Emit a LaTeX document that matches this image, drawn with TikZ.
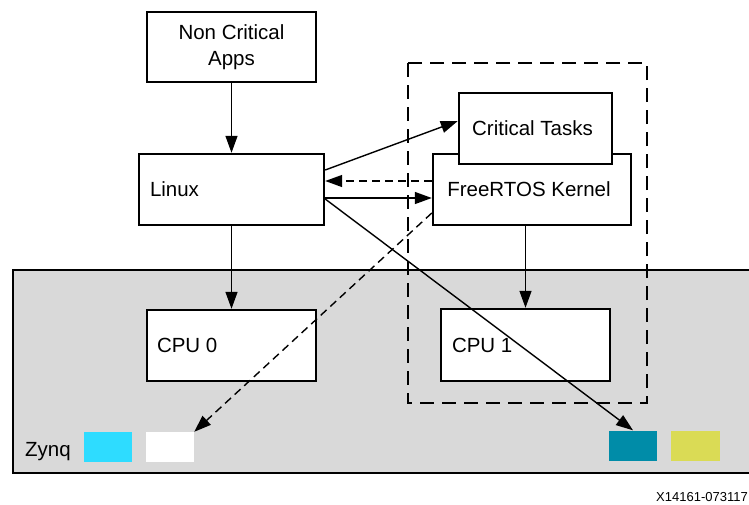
\documentclass[tikz,border=0pt]{standalone}
\usepackage{fontspec}
\setmainfont{Liberation Sans}
\usetikzlibrary{arrows.meta,calc}
\definecolor{zgray}{HTML}{D9D9D9}
\definecolor{zcyan}{HTML}{2EDCFF}
\definecolor{zteal}{HTML}{008CA8}
\definecolor{zyellow}{HTML}{DADB55}
\begin{document}
\begin{tikzpicture}[x=1pt,y=-1pt,
  txt/.style={font=\fontsize{20.5}{25.5}\selectfont},
  box/.style={draw, line width=2.4pt, fill=white, inner sep=0pt, txt, align=center},
  lbl/.style={anchor=west, inner sep=0pt, txt},
  conn/.style={line width=1.4pt, -{Triangle[length=17pt,width=12pt]}},
  dconn/.style={conn, dash pattern=on 8pt off 5pt},
  sq/.style={minimum width=48pt, minimum height=30pt, inner sep=0pt, draw=none}]
\useasboundingbox (0,0) rectangle (749,504);
% Zynq region
\fill[zgray] (13,270) rectangle (770,473);
\draw[line width=2.4pt] (770,270) -- (13,270) -- (13,473) -- (770,473);
% dashed group
\draw[line width=2.8pt, dash pattern=on 14pt off 8pt] (408,63) rectangle (647,403);
% boxes
\node[box, minimum width=169pt, minimum height=70pt] (nca) at (231.5,47) {Non Critical\\Apps};
\node[box, minimum width=185pt, minimum height=71pt,
      label={[lbl, xshift=12pt]west:Linux}] (linux) at (231.5,189.5) {};
\node[box, minimum width=198pt, minimum height=71pt] (frt) at (532,189.5) {\hspace*{-6pt}FreeRTOS Kernel};
\node[box, minimum width=153pt, minimum height=71pt] (ct) at (535.5,128.5) {\hspace*{-6pt}Critical Tasks};
\node[box, minimum width=169pt, minimum height=71pt,
      label={[lbl, xshift=11pt]west:CPU 0}] (cpu0) at (231.5,345.5) {};
\node[box, minimum width=169pt, minimum height=72pt,
      label={[lbl, xshift=12pt]west:CPU 1}] (cpu1) at (525.5,345) {};
% legend squares
\node[lbl] (zynq) at (25,452) {Zynq};
\node[sq, fill=zcyan] (cyan) at (108,447) {};
\node[sq, fill=white] (white) at (170,447) {};
\node[sq, fill=zteal] (teal) at (633,445.5) {};
\node[sq, fill=zyellow, minimum width=49pt] (yellow) at (695.5,445.5) {};
\node[anchor=east, inner sep=0pt, font=\fontsize{13}{15}\selectfont] (code) at (748,497) {X14161-073117};
% connectors
\draw[conn] (nca.south) -- (linux.north);
\draw[conn] (linux.south) -- (cpu0.north);
\draw[conn] (cpu1.north |- frt.south) -- (cpu1.north);
\draw[conn] ($(linux.east)+(0,-19.5)$) -- ($(ct.west)+(0,-7.5)$);
\draw[dconn] ($(frt.west)+(0,-8.5)$) -- ($(linux.east)+(0,-8.5)$);
\draw[conn] ($(linux.east)+(0,8.5)$) -- ($(frt.west)+(0,8.5)$);
\draw[conn] ($(linux.east)+(0,9.5)$) -- (teal.north);
\draw[dconn] ($(frt.west)+(0,23.5)$) -- (white.north east);
\end{tikzpicture}
\end{document}
